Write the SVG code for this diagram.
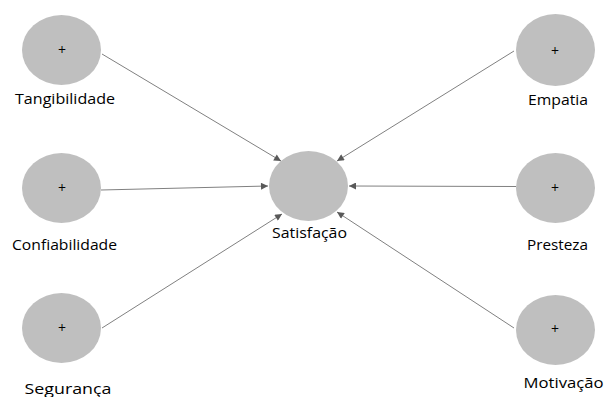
<svg xmlns="http://www.w3.org/2000/svg" width="605" height="397" viewBox="0 0 605 397">
<defs>
<style>
.n{fill:#bfbfbf;stroke:none}
.p{font-family:"Open Sans","Liberation Sans",Arial,sans-serif;font-size:14px;fill:#000;text-anchor:middle}
.l{font-family:"Open Sans","Liberation Sans",Arial,sans-serif;font-size:14.5px;fill:#000;text-anchor:middle}
.c{stroke:#808080;stroke-width:1;fill:none;marker-end:url(#a)}
</style>
<marker id="a" viewBox="0 0 10 10" refX="10" refY="5" markerWidth="9" markerHeight="7" markerUnits="userSpaceOnUse" orient="auto">
<path d="M0,0 L10,5 L0,10 z" fill="#595959"/>
</marker>
</defs>
<rect width="605" height="397" fill="#fff"/>
<g id="connectors">
<line class="c" x1="102" y1="54" x2="281" y2="161"/>
<line class="c" x1="101" y1="190" x2="268" y2="186"/>
<line class="c" x1="102" y1="328" x2="282" y2="214"/>
<line class="c" x1="514" y1="51" x2="337" y2="161"/>
<line class="c" x1="516" y1="186.5" x2="349" y2="186"/>
<line class="c" x1="514" y1="328" x2="337" y2="212"/>
</g>
<g id="tangibilidade">
<ellipse class="n" cx="61.5" cy="50" rx="39.5" ry="35"/>
<text class="p" x="62" y="55">+</text>
<text class="l" x="65" y="104" textLength="100" lengthAdjust="spacingAndGlyphs">Tangibilidade</text>
</g>
<g id="confiabilidade">
<ellipse class="n" cx="61.5" cy="188" rx="39.5" ry="35"/>
<text class="p" x="62" y="193">+</text>
<text class="l" x="64.5" y="250" textLength="105" lengthAdjust="spacingAndGlyphs">Confiabilidade</text>
</g>
<g id="seguranca">
<ellipse class="n" cx="61.5" cy="328" rx="39.5" ry="35"/>
<text class="p" x="62" y="333">+</text>
<text class="l" x="68" y="394" textLength="87" lengthAdjust="spacingAndGlyphs">Segurança</text>
</g>
<g id="satisfacao">
<ellipse class="n" cx="308.5" cy="186" rx="39.5" ry="35"/>
<text class="l" x="309.5" y="238" textLength="75" lengthAdjust="spacingAndGlyphs">Satisfação</text>
</g>
<g id="empatia">
<ellipse class="n" cx="555.5" cy="50" rx="39.5" ry="36"/>
<text class="p" x="555" y="56">+</text>
<text class="l" x="558" y="105" textLength="60" lengthAdjust="spacingAndGlyphs">Empatia</text>
</g>
<g id="presteza">
<ellipse class="n" cx="555.5" cy="188" rx="39.5" ry="35"/>
<text class="p" x="555" y="193">+</text>
<text class="l" x="557.5" y="250" textLength="61" lengthAdjust="spacingAndGlyphs">Presteza</text>
</g>
<g id="motivacao">
<ellipse class="n" cx="555.5" cy="330" rx="39.5" ry="35"/>
<text class="p" x="555" y="334">+</text>
<text class="l" x="563.5" y="388" textLength="80" lengthAdjust="spacingAndGlyphs">Motivação</text>
</g>
</svg>
